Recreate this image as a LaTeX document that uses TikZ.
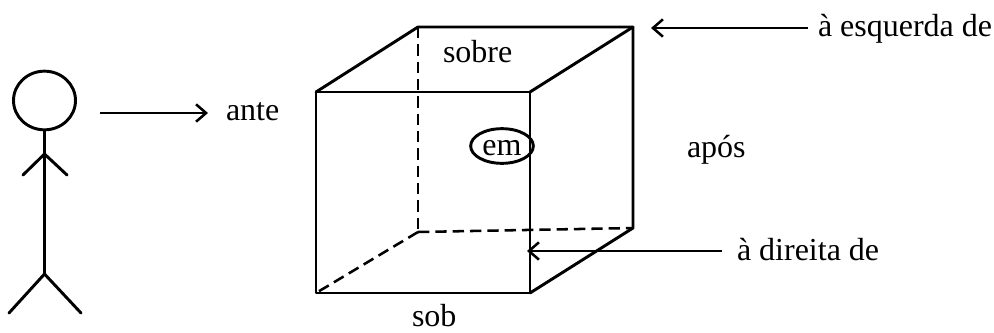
\documentclass[tikz,border=0pt]{standalone}
\usepackage{fontspec}
\setmainfont{Liberation Serif}
\usetikzlibrary{arrows.meta,shapes.geometric}
\tikzset{
  ln/.style={line width=2.2pt,black,line cap=round,line join=round},
  dsh/.style={line width=1.9pt,black,dash pattern=on 8.5pt off 4.5pt},
  arr/.style={line width=1.9pt,black,-{Straight Barb[length=7.5pt,width=13pt,line width=1.9pt]}},
  lbl/.style={inner sep=0pt,outer sep=0pt,anchor=base west,font=\fontsize{24pt}{26pt}\selectfont}
}
\begin{document}
\begin{tikzpicture}[x=0.75pt,y=-0.75pt]
\useasboundingbox (0,0) rectangle (994,332);
% person
\node[ellipse,draw,line width=2.2pt,minimum width=46.5pt,minimum height=44pt,inner sep=0pt] (head) at (44.5,100.5) {};
\coordinate (neck) at (44.5,154);
\coordinate (hip) at (44.5,274);
\coordinate (hl) at (23,175);
\coordinate (hr) at (67,175);
\coordinate (fl) at (9,313);
\coordinate (fr) at (81,313);
\draw[ln] (head.south) -- (hip);
\draw[ln] (hl) -- (neck) -- (hr);
\draw[ln] (fl) -- (hip) -- (fr);
% labels
\node[lbl] (ante) at (226,120) {ante};
\node[lbl] (sobre) at (443,62) {sobre};
\node[lbl] (apos) at (687,157.5) {após};
\node[lbl] (sob) at (412,326) {sob};
\node[lbl] (esq) at (818,36.5) {à esquerda de};
\node[lbl] (dir) at (737,260) {à direita de};
% cube
\coordinate (A) at (316,92);
\coordinate (B) at (530,92);
\coordinate (C) at (530,293);
\coordinate (D) at (316,293);
\coordinate (E) at (418,27);
\coordinate (F) at (633,27);
\coordinate (G) at (633,228);
\coordinate (H) at (418,232);
\draw[dsh] (E) -- (H);
\draw[dsh] (H) -- (G);
\draw[dsh] (H) -- (D);
\draw[ln] (A) -- (B) -- (C) -- (D) -- cycle;
\draw[ln] (A) -- (E) -- (F) -- (G) -- (C);
\draw[ln] (B) -- (F);
% em
\node[ellipse,draw,line width=2.2pt,minimum width=47pt,minimum height=26pt,inner sep=0pt,text height=13.5pt,text depth=0pt,font=\fontsize{24pt}{26pt}\selectfont] (em) at (502,146) {em};
% arrows
\coordinate (a1) at (100,113);
\coordinate (a2) at (208,113);
\coordinate (b1) at (808,28);
\coordinate (b2) at (651,28);
\coordinate (c1) at (722,251);
\coordinate (c2) at (527,251);
\draw[arr] (a1) -- (a2);
\draw[arr] (b1) -- (b2);
\draw[arr] (c1) -- (c2);
\end{tikzpicture}
\end{document}
